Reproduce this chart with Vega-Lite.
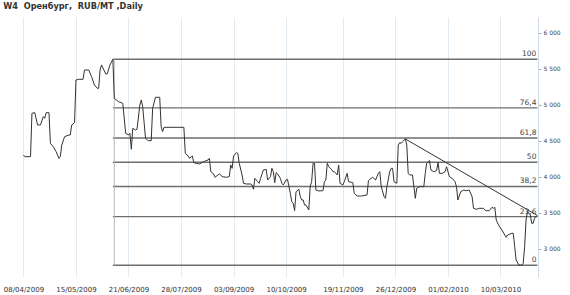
{
  "$schema": "https://vega.github.io/schema/vega-lite/v6.json",
  "width": 516,
  "height": 260,
  "autosize": {"type": "none"},
  "padding": {"left": 22, "top": 17, "right": 32, "bottom": 18},
  "background": "white",
  "title": {"text": "W4\u00a0 Оренбург,\u00a0 RUB/MT ,Daily", "anchor": "start", "frame": "bounds", "offset": 6, "font": "DejaVu Sans", "fontSize": 8.2, "fontWeight": "bold", "color": "#333333"},
  "config": {"view": {"stroke": null}, "text": {"font": "DejaVu Sans"}},
  "datasets": {
    "price": [
      {"date": "2009-04-08", "price": 4306}, {"date": "2009-04-09", "price": 4282}, {"date": "2009-04-13", "price": 4282},
      {"date": "2009-04-14", "price": 4885}, {"date": "2009-04-16", "price": 4893}, {"date": "2009-04-18", "price": 4722},
      {"date": "2009-04-20", "price": 4722}, {"date": "2009-04-22", "price": 4838}, {"date": "2009-04-23", "price": 4815},
      {"date": "2009-04-24", "price": 4893}, {"date": "2009-04-26", "price": 4893}, {"date": "2009-04-27", "price": 4468},
      {"date": "2009-04-29", "price": 4421}, {"date": "2009-05-01", "price": 4352}, {"date": "2009-05-03", "price": 4259},
      {"date": "2009-05-04", "price": 4282}, {"date": "2009-05-05", "price": 4444}, {"date": "2009-05-07", "price": 4560},
      {"date": "2009-05-10", "price": 4583}, {"date": "2009-05-11", "price": 4583}, {"date": "2009-05-12", "price": 4722},
      {"date": "2009-05-14", "price": 4754}, {"date": "2009-05-15", "price": 5347}, {"date": "2009-05-17", "price": 5357},
      {"date": "2009-05-20", "price": 5357}, {"date": "2009-05-21", "price": 5486}, {"date": "2009-05-24", "price": 5486},
      {"date": "2009-05-26", "price": 5393}, {"date": "2009-05-28", "price": 5278}, {"date": "2009-05-30", "price": 5232},
      {"date": "2009-05-31", "price": 5232}, {"date": "2009-06-01", "price": 5486}, {"date": "2009-06-02", "price": 5556},
      {"date": "2009-06-05", "price": 5431}, {"date": "2009-06-06", "price": 5431}, {"date": "2009-06-08", "price": 5556},
      {"date": "2009-06-10", "price": 5635}, {"date": "2009-06-11", "price": 5093}, {"date": "2009-06-14", "price": 5046},
      {"date": "2009-06-17", "price": 5023}, {"date": "2009-06-19", "price": 4607}, {"date": "2009-06-21", "price": 4583},
      {"date": "2009-06-22", "price": 4607}, {"date": "2009-06-23", "price": 4385}, {"date": "2009-06-24", "price": 4676},
      {"date": "2009-06-26", "price": 4653}, {"date": "2009-06-27", "price": 4662}, {"date": "2009-06-29", "price": 5000},
      {"date": "2009-06-30", "price": 5069}, {"date": "2009-07-01", "price": 4977}, {"date": "2009-07-03", "price": 4537},
      {"date": "2009-07-05", "price": 4504}, {"date": "2009-07-07", "price": 4504}, {"date": "2009-07-08", "price": 4954},
      {"date": "2009-07-10", "price": 5107}, {"date": "2009-07-13", "price": 5107}, {"date": "2009-07-14", "price": 4699},
      {"date": "2009-07-15", "price": 4630}, {"date": "2009-07-16", "price": 4690}, {"date": "2009-07-30", "price": 4690},
      {"date": "2009-07-31", "price": 4329}, {"date": "2009-08-02", "price": 4292}, {"date": "2009-08-03", "price": 4259},
      {"date": "2009-08-05", "price": 4292}, {"date": "2009-08-06", "price": 4199}, {"date": "2009-08-08", "price": 4190},
      {"date": "2009-08-10", "price": 4181}, {"date": "2009-08-13", "price": 4213}, {"date": "2009-08-16", "price": 4236},
      {"date": "2009-08-17", "price": 4259}, {"date": "2009-08-18", "price": 4074}, {"date": "2009-08-20", "price": 4042},
      {"date": "2009-08-21", "price": 3996}, {"date": "2009-08-23", "price": 4028}, {"date": "2009-08-24", "price": 4042},
      {"date": "2009-08-26", "price": 4005}, {"date": "2009-08-29", "price": 3996}, {"date": "2009-08-31", "price": 4005},
      {"date": "2009-09-01", "price": 4167}, {"date": "2009-09-02", "price": 4120}, {"date": "2009-09-03", "price": 4292},
      {"date": "2009-09-05", "price": 4338}, {"date": "2009-09-06", "price": 4329}, {"date": "2009-09-07", "price": 4190},
      {"date": "2009-09-09", "price": 4028}, {"date": "2009-09-10", "price": 3912}, {"date": "2009-09-12", "price": 3903},
      {"date": "2009-09-15", "price": 3903}, {"date": "2009-09-16", "price": 3889}, {"date": "2009-09-17", "price": 3829},
      {"date": "2009-09-18", "price": 3981}, {"date": "2009-09-20", "price": 3935}, {"date": "2009-09-21", "price": 3912},
      {"date": "2009-09-22", "price": 3981}, {"date": "2009-09-24", "price": 4097}, {"date": "2009-09-26", "price": 4106},
      {"date": "2009-09-27", "price": 3958}, {"date": "2009-09-29", "price": 4005}, {"date": "2009-09-30", "price": 4120},
      {"date": "2009-10-01", "price": 4074}, {"date": "2009-10-02", "price": 3921}, {"date": "2009-10-03", "price": 4060},
      {"date": "2009-10-04", "price": 4042}, {"date": "2009-10-06", "price": 3981}, {"date": "2009-10-07", "price": 3912},
      {"date": "2009-10-08", "price": 3889}, {"date": "2009-10-10", "price": 3958}, {"date": "2009-10-11", "price": 3968},
      {"date": "2009-10-13", "price": 3773}, {"date": "2009-10-14", "price": 3657}, {"date": "2009-10-15", "price": 3635},
      {"date": "2009-10-16", "price": 3532}, {"date": "2009-10-17", "price": 3796}, {"date": "2009-10-19", "price": 3829},
      {"date": "2009-10-20", "price": 3727}, {"date": "2009-10-21", "price": 3681}, {"date": "2009-10-22", "price": 3681},
      {"date": "2009-10-23", "price": 3611}, {"date": "2009-10-24", "price": 3611}, {"date": "2009-10-26", "price": 3542},
      {"date": "2009-10-27", "price": 3875}, {"date": "2009-10-28", "price": 3935}, {"date": "2009-10-29", "price": 4190},
      {"date": "2009-10-30", "price": 4190}, {"date": "2009-10-31", "price": 3819}, {"date": "2009-11-02", "price": 3806},
      {"date": "2009-11-05", "price": 3810}, {"date": "2009-11-06", "price": 3935}, {"date": "2009-11-07", "price": 3958},
      {"date": "2009-11-08", "price": 4190}, {"date": "2009-11-09", "price": 4144}, {"date": "2009-11-11", "price": 4106},
      {"date": "2009-11-12", "price": 4074}, {"date": "2009-11-13", "price": 4074}, {"date": "2009-11-15", "price": 4028},
      {"date": "2009-11-16", "price": 4167}, {"date": "2009-11-17", "price": 3912}, {"date": "2009-11-19", "price": 3889},
      {"date": "2009-11-20", "price": 3935}, {"date": "2009-11-22", "price": 4051}, {"date": "2009-11-23", "price": 3935},
      {"date": "2009-11-26", "price": 3921}, {"date": "2009-11-27", "price": 3773}, {"date": "2009-11-29", "price": 3736},
      {"date": "2009-12-02", "price": 3736}, {"date": "2009-12-06", "price": 3750}, {"date": "2009-12-07", "price": 3949},
      {"date": "2009-12-08", "price": 3968}, {"date": "2009-12-10", "price": 3996}, {"date": "2009-12-12", "price": 3958},
      {"date": "2009-12-14", "price": 4051}, {"date": "2009-12-15", "price": 4074}, {"date": "2009-12-16", "price": 3866},
      {"date": "2009-12-18", "price": 3727}, {"date": "2009-12-19", "price": 3704}, {"date": "2009-12-20", "price": 3866},
      {"date": "2009-12-22", "price": 4074}, {"date": "2009-12-23", "price": 4120}, {"date": "2009-12-24", "price": 4120},
      {"date": "2009-12-25", "price": 3935}, {"date": "2009-12-27", "price": 3912}, {"date": "2009-12-28", "price": 4444},
      {"date": "2009-12-29", "price": 4477}, {"date": "2009-12-30", "price": 4468}, {"date": "2009-12-31", "price": 4491},
      {"date": "2010-01-02", "price": 4528}, {"date": "2010-01-03", "price": 4444}, {"date": "2010-01-04", "price": 4051},
      {"date": "2010-01-05", "price": 4028}, {"date": "2010-01-07", "price": 4028}, {"date": "2010-01-08", "price": 3866},
      {"date": "2010-01-09", "price": 3704}, {"date": "2010-01-10", "price": 3843}, {"date": "2010-01-12", "price": 3866},
      {"date": "2010-01-15", "price": 3866}, {"date": "2010-01-16", "price": 4051}, {"date": "2010-01-17", "price": 4190},
      {"date": "2010-01-19", "price": 4227}, {"date": "2010-01-20", "price": 4097}, {"date": "2010-01-22", "price": 4074},
      {"date": "2010-01-24", "price": 4088}, {"date": "2010-01-25", "price": 4199}, {"date": "2010-01-26", "price": 4051},
      {"date": "2010-01-28", "price": 4051}, {"date": "2010-01-30", "price": 4074}, {"date": "2010-01-31", "price": 4144},
      {"date": "2010-02-02", "price": 4005}, {"date": "2010-02-04", "price": 3981}, {"date": "2010-02-06", "price": 3935},
      {"date": "2010-02-07", "price": 3866}, {"date": "2010-02-08", "price": 3681}, {"date": "2010-02-10", "price": 3796},
      {"date": "2010-02-12", "price": 3819}, {"date": "2010-02-14", "price": 3810}, {"date": "2010-02-16", "price": 3819},
      {"date": "2010-02-18", "price": 3727}, {"date": "2010-02-19", "price": 3565}, {"date": "2010-02-21", "price": 3551},
      {"date": "2010-02-23", "price": 3565}, {"date": "2010-02-26", "price": 3565}, {"date": "2010-02-27", "price": 3542},
      {"date": "2010-02-28", "price": 3532}, {"date": "2010-03-02", "price": 3532}, {"date": "2010-03-04", "price": 3579},
      {"date": "2010-03-05", "price": 3565}, {"date": "2010-03-06", "price": 3579}, {"date": "2010-03-07", "price": 3403},
      {"date": "2010-03-09", "price": 3319}, {"date": "2010-03-11", "price": 3264}, {"date": "2010-03-13", "price": 3194},
      {"date": "2010-03-14", "price": 3162}, {"date": "2010-03-15", "price": 3194}, {"date": "2010-03-18", "price": 3218},
      {"date": "2010-03-19", "price": 3218}, {"date": "2010-03-20", "price": 3032}, {"date": "2010-03-21", "price": 2847},
      {"date": "2010-03-23", "price": 2775}, {"date": "2010-03-25", "price": 2775}, {"date": "2010-03-26", "price": 2801},
      {"date": "2010-03-27", "price": 3032}, {"date": "2010-03-28", "price": 3403}, {"date": "2010-03-29", "price": 3519},
      {"date": "2010-03-31", "price": 3472}, {"date": "2010-04-01", "price": 3357}, {"date": "2010-04-02", "price": 3357},
      {"date": "2010-04-03", "price": 3426}, {"date": "2010-04-04", "price": 3458}, {"date": "2010-04-05", "price": 3449}
    ],
    "fib": [
      {"level": "100", "price": 5635, "date": "2009-06-10", "end": "2010-04-05"},
      {"level": "76,4", "price": 4960, "date": "2009-06-10", "end": "2010-04-05"},
      {"level": "61,8", "price": 4542, "date": "2009-06-10", "end": "2010-04-05"},
      {"level": "50", "price": 4205, "date": "2009-06-10", "end": "2010-04-05"},
      {"level": "38,2", "price": 3868, "date": "2009-06-10", "end": "2010-04-05"},
      {"level": "23,6", "price": 3450, "date": "2009-06-10", "end": "2010-04-05"},
      {"level": "0", "price": 2775, "date": "2009-06-10", "end": "2010-04-05"}
    ],
    "peak": [{"date": "2009-06-11", "price": 5635, "low": 2775}],
    "trend": [{"date": "2010-01-02", "price": 4528}, {"date": "2010-04-05", "price": 3465}]
  },
  "layer": [
    {
      "data": {"name": "fib"},
      "mark": {"type": "rule", "color": "#6e6e6e", "strokeWidth": 1.4},
      "encoding": {
        "x": {"field": "date", "type": "temporal", "title": null, "scale": {"domain": [{"year": 2009, "month": 4, "date": 7}, {"year": 2010, "month": 4, "date": 5, "hours": 10}]},
          "axis": {"values": [{"year": 2009, "month": 4, "date": 8}, {"year": 2009, "month": 5, "date": 15}, {"year": 2009, "month": 6, "date": 21}, {"year": 2009, "month": 7, "date": 28}, {"year": 2009, "month": 9, "date": 3}, {"year": 2009, "month": 10, "date": 10}, {"year": 2009, "month": 11, "date": 19}, {"year": 2009, "month": 12, "date": 26}, {"year": 2010, "month": 2, "date": 1}, {"year": 2010, "month": 3, "date": 10}],
            "format": "%d/%m/%Y", "title": null, "grid": true, "gridColor": "#e2eaf2", "gridWidth": 1, "ticks": false, "domain": false, "labelPadding": 8, "labelFont": "DejaVu Sans", "labelFontSize": 7, "labelColor": "#333333", "labelOverlap": false, "labelBound": false, "labelFlush": false}},
        "x2": {"field": "end"},
        "y": {"field": "price", "type": "quantitative", "title": null, "scale": {"domain": [2611, 6222], "nice": false, "zero": false},
          "axis": {"orient": "right", "values": [3000, 3500, 4000, 4500, 5000, 5500, 6000], "labelExpr": "replace(format(datum.value, ','), ',', ' ')", "title": null, "grid": false, "domainColor": "#cddbe8", "tickColor": "#aaaaaa", "tickSize": 3, "labelPadding": 2, "labelFont": "DejaVu Sans", "labelFontSize": 6, "labelColor": "#444444"}}
      }
    },
    {
      "data": {"name": "fib"},
      "mark": {"type": "text", "align": "right", "baseline": "bottom", "dx": -1, "dy": -1, "fontSize": 7.5, "color": "#444444"},
      "encoding": {
        "x": {"field": "end", "type": "temporal", "title": null},
        "y": {"field": "price", "type": "quantitative", "title": null},
        "text": {"field": "level"}
      }
    },
    {
      "data": {"name": "peak"},
      "mark": {"type": "rule", "color": "#b8b8b8", "strokeWidth": 1},
      "encoding": {
        "x": {"field": "date", "type": "temporal", "title": null},
        "y": {"field": "price", "type": "quantitative", "title": null},
        "y2": {"field": "low"}
      }
    },
    {
      "data": {"name": "price"},
      "mark": {"type": "line", "color": "#333333", "strokeWidth": 1},
      "encoding": {
        "x": {"field": "date", "type": "temporal", "title": null},
        "y": {"field": "price", "type": "quantitative", "title": null}
      }
    },
    {
      "data": {"name": "trend"},
      "mark": {"type": "line", "color": "#333333", "strokeWidth": 1},
      "encoding": {
        "x": {"field": "date", "type": "temporal", "title": null},
        "y": {"field": "price", "type": "quantitative", "title": null}
      }
    }
  ]
}
